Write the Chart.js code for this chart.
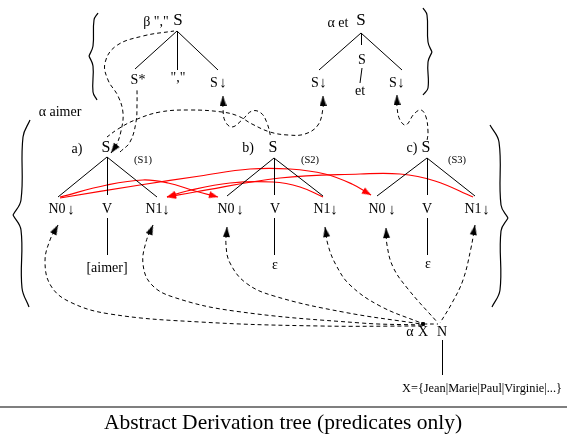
<!DOCTYPE html>
<html>
<head>
<meta charset="utf-8">
<script src="https://cdn.jsdelivr.net/npm/chart.js@4.4.0/dist/chart.umd.min.js"></script>
<style>
    html, body { margin: 0; padding: 0; background: #fff; }
    #wrap { width: 567px; height: 437px; }
</style>
</head>
<body>
<div id="wrap"><canvas id="chart" width="567" height="437"></canvas></div>
<script>
// tree branches [x1, y1, x2, y2]
const branches = [
    [177, 31, 135, 69], [177.5, 31, 177.5, 70], [177, 31, 218, 70],                     // beta ","
    [361, 33, 319, 70], [361.5, 33, 361.5, 45], [362, 68, 360, 83], [361, 33, 402, 70], // alpha et
    [107, 157, 58, 197], [107.5, 157, 107.5, 195], [107, 157, 157, 197], [107.5, 218, 107.5, 255], // a)
    [274, 158, 227, 196], [274.5, 158, 274.5, 195], [274, 158, 323, 196], [274.5, 218, 274.5, 255], // b)
    [427, 158, 377, 196], [427.5, 158, 427.5, 195], [427, 158, 475, 196], [427.5, 218, 427.5, 255], // c)
    [442.5, 340, 442.5, 375]                                                            // N
];

// dashed derivation links, arrow end first
const dashedLinks = [
    [[111, 153], [116, 146], [121, 131], [123, 113], [118, 96], [108, 80], [105, 63], [116, 46], [143, 36], [174, 31]],
    [[323, 96], [323, 108], [318, 125], [305, 134], [288, 135], [270, 132], [252, 124], [238, 116], [222, 112], [190, 110], [160, 112], [135, 120], [118, 129], [107, 137]],
    [[223, 96], [223, 108], [225, 121], [232, 127], [242, 120], [252, 111], [261, 113], [267, 123], [271, 138]],
    [[397, 95], [397, 107], [400, 120], [406, 125], [414, 114], [421, 110], [426, 117], [428, 132], [427, 141]],
    [[58, 225], [50, 240], [45, 262], [51, 286], [70, 302], [110, 314], [200, 322], [320, 326], [421, 326]],
    [[153, 225], [146, 242], [143, 264], [151, 284], [173, 297], [234, 311], [361, 323], [421, 325]],
    [[227, 227], [226, 245], [230, 263], [246, 283], [274, 296], [343, 312], [421, 324]],
    [[325, 227], [328, 245], [336, 265], [350, 285], [380, 306], [421, 323]],
    [[386, 228], [387, 245], [393, 267], [408, 289], [438, 323]],
    [[475, 225], [471, 248], [463, 280], [452, 303], [440, 323]]
];
// dashed links without arrow
const dashedPlain = [
    [[120, 152], [130, 142], [136, 122], [137, 104], [137, 88]],
    [[423, 324], [438, 324]]
];

// red links between argument slots, arrow end first
const redLinks = [
    [[218, 197], [195, 191], [168, 183], [143, 180], [107, 185], [60, 197]],
    [[371, 195], [352, 184], [325, 174], [290, 169], [250, 169], [200, 176], [140, 185], [60, 198]],
    [[167, 197], [187, 191], [230, 183], [273, 182], [300, 187], [323, 197]],
    [[167, 197], [195, 192], [280, 178], [360, 174], [400, 174], [435, 181], [473, 197]]
];

// braces, each as two halves meeting at the cusp
const braces = [
    [[98, 13], [94, 20], [93, 46], [89, 56]], [[89, 56], [93, 66], [93, 92], [97, 100]],
    [[423, 8], [427, 15], [428, 42], [432, 52]], [[432, 52], [428, 62], [428, 88], [423, 95]],
    [[30, 120], [23, 137], [21, 200], [13, 215]], [[13, 215], [21, 230], [22, 288], [29, 307]],
    [[490, 125], [499, 142], [501, 205], [508, 218]], [[508, 218], [501, 231], [500, 290], [492, 307]]
];

const ruleLine = [[0, 407], [567, 407]];
const anchorDot = [[423, 324]];

// [text, x, y, size]
const texts = [
    ['β ","', 156, 22, 14], ['S', 178, 21, 17], ['S*', 138, 80, 14], ['","', 178, 78, 14],
    ['S', 214, 83, 14], ['↓', 223, 83, 15],
    ['α et', 338, 23, 14], ['S', 361, 21, 17], ['S', 362, 60, 14], ['et', 360, 91, 14],
    ['S', 315, 83, 14], ['↓', 323, 83, 15], ['S', 393, 83, 14], ['↓', 401, 83, 15],
    ['α aimer', 60, 112, 14],
    ['a)', 77, 149, 14], ['S', 106, 148, 16], ['(S1)', 143, 160, 10.5],
    ['N0', 57, 209, 14], ['↓', 71, 210, 15], ['V', 107, 209, 14], ['N1', 154, 209, 14], ['↓', 166, 210, 15],
    ['[aimer]', 107, 268, 14],
    ['b)', 248, 148, 14], ['S', 273, 148, 16], ['(S2)', 310, 160, 10.5],
    ['N0', 226, 209, 14], ['↓', 240, 210, 15], ['V', 275, 209, 14], ['N1', 322, 209, 14], ['↓', 334, 210, 15],
    ['ε', 275, 265, 14],
    ['c)', 412, 148, 14], ['S', 426, 148, 16], ['(S3)', 457, 160, 10.5],
    ['N0', 377, 209, 14], ['↓', 392, 210, 15], ['V', 427, 209, 14], ['N1', 473, 209, 14], ['↓', 486, 210, 15],
    ['ε', 428, 264, 14],
    ['α', 410, 332, 14], ['X', 423, 332, 14], ['N', 442, 332, 14],
    ['X={Jean|Marie|Paul|Virginie|...}', 482, 389, 12.3],
    ['Abstract Derivation tree (predicates only)', 283, 423, 21.5]
];

const FONT = '"Liberation Serif", "DejaVu Serif", serif';

function arrowHead(color, w, h) {
    const c = document.createElement('canvas');
    c.width = w; c.height = h * 2;
    const g = c.getContext('2d');
    g.fillStyle = color;
    g.beginPath();
    g.moveTo(w / 2, h); g.lineTo(w, h * 2); g.lineTo(0, h * 2);
    g.closePath();
    g.fill();
    return c;
}
const blackHead = arrowHead('#000', 7, 10);
const redHead = arrowHead('#f00', 7, 9);

function toPoints(pts) {
    return pts.map(p => ({ x: p[0], y: p[1] }));
}

function lineSet(pts, color, width, dash, head) {
    return {
        data: toPoints(pts),
        showLine: true,
        borderColor: color,
        backgroundColor: color,
        borderWidth: width,
        borderDash: dash,
        tension: dash.length || head ? 0.4 : 0,
        pointRadius: c => (head && c.dataIndex === 0) ? 5 : 0,
        pointStyle: head || 'circle',
        pointBorderWidth: 0,
        pointRotation: c => {
            if (!head || c.dataIndex !== 0) return 0;
            const d = c.dataset.data;
            const sx = c.chart.scales.x, sy = c.chart.scales.y;
            const dx = sx.getPixelForValue(d[0].x) - sx.getPixelForValue(d[1].x);
            const dy = sy.getPixelForValue(d[0].y) - sy.getPixelForValue(d[1].y);
            return Math.atan2(dx, -dy) * 180 / Math.PI;
        }
    };
}

const datasets = [];
for (const b of branches) {
    datasets.push(lineSet([[b[0], b[1]], [b[2], b[3]]], '#000', 1, [], null));
}
for (const l of dashedLinks) datasets.push(lineSet(l, '#000', 1, [4, 3], blackHead));
for (const l of dashedPlain) datasets.push(lineSet(l, '#000', 1, [4, 3], null));
for (const l of redLinks) datasets.push(lineSet(l, '#f00', 1.2, [], redHead));
for (const b of braces) {
    const s = lineSet(b, '#000', 1.2, [], null);
    s.tension = 0.4;
    datasets.push(s);
}
datasets.push(lineSet(ruleLine, '#555', 1.5, [], null));
datasets.push({
    data: toPoints(anchorDot),
    pointStyle: 'rect',
    pointRadius: 2,
    backgroundColor: '#000',
    borderColor: '#000',
    showLine: false
});

const textPlugin = {
    id: 'treeTexts',
    afterDatasetsDraw(chart) {
        const ctx = chart.ctx;
        const sx = chart.scales.x, sy = chart.scales.y;
        ctx.save();
        ctx.fillStyle = '#000';
        ctx.textAlign = 'center';
        ctx.textBaseline = 'middle';
        for (const [t, x, y, size] of texts) {
            ctx.font = size + 'px ' + FONT;
            ctx.fillText(t, sx.getPixelForValue(x), sy.getPixelForValue(y));
        }
        ctx.restore();
    }
};

new Chart(document.getElementById('chart').getContext('2d'), {
    type: 'scatter',
    data: { datasets: datasets },
    options: {
        responsive: false,
        animation: false,
        events: [],
        layout: { padding: 0, autoPadding: false },
        plugins: { legend: { display: false }, tooltip: { enabled: false } },
        scales: {
            x: { type: 'linear', min: 0, max: 567, display: false },
            y: { type: 'linear', min: 0, max: 437, reverse: true, display: false }
        }
    },
    plugins: [textPlugin]
});
</script>
</body>
</html>
